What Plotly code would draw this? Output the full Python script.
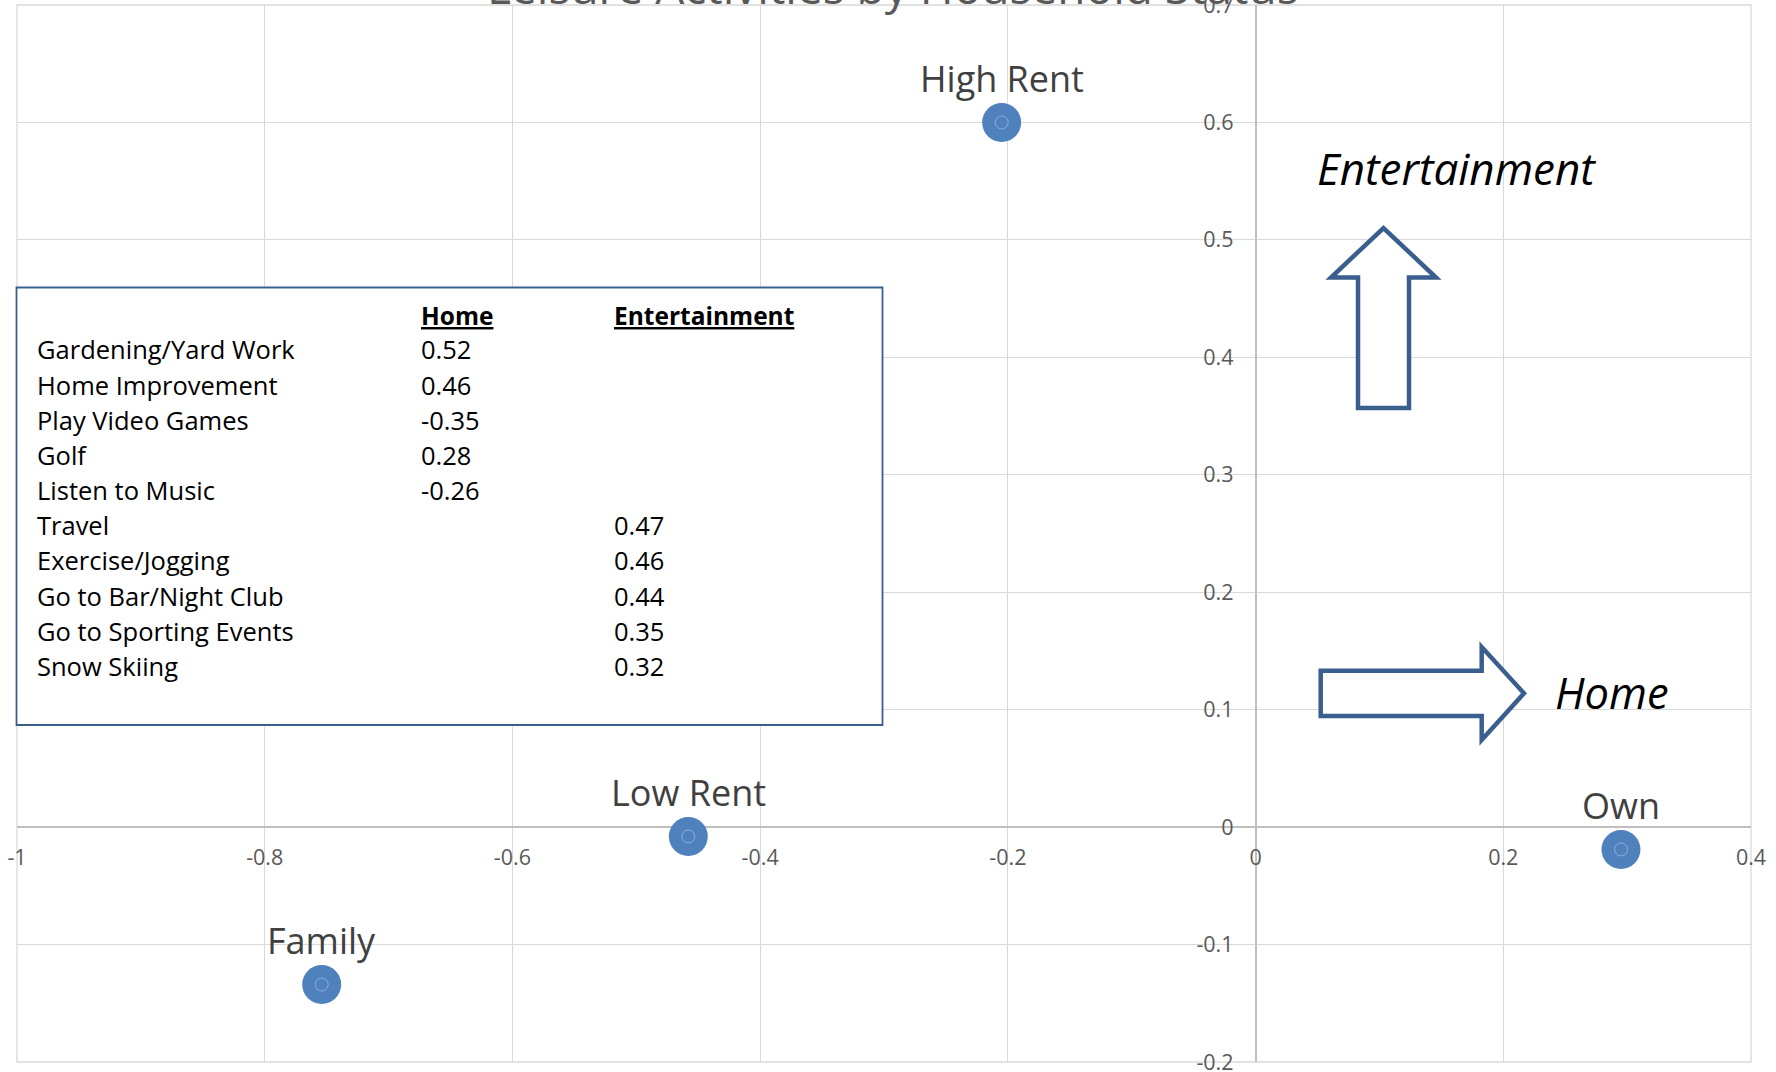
import plotly.graph_objects as go

# ---- data -------------------------------------------------------------
groups = ["High Rent", "Low Rent", "Own", "Family"]
home_score = [-0.205, -0.458, 0.295, -0.754]
ent_score = [0.600, -0.008, -0.019, -0.134]

activities = [
    "Gardening/Yard Work", "Home Improvement", "Play Video Games", "Golf",
    "Listen to Music", "Travel", "Exercise/Jogging", "Go to Bar/Night Club",
    "Go to Sporting Events", "Snow Skiing",
]
home_loading = [0.52, 0.46, -0.35, 0.28, -0.26, None, None, None, None, None]
ent_loading = [None, None, None, None, None, 0.47, 0.46, 0.44, 0.35, 0.32]

x_ticks = [-1, -0.8, -0.6, -0.4, -0.2, 0, 0.2, 0.4]
x_tick_text = ["-1", "-0.8", "-0.6", "-0.4", "-0.2", "0", "0.2", "0.4"]
y_ticks = [-0.2, -0.1, 0, 0.1, 0.2, 0.3, 0.4, 0.5, 0.6, 0.7]
y_tick_text = ["-0.2", "-0.1", "0", "0.1", "0.2", "0.3", "0.4", "0.5", "0.6", "0.7"]

X_RANGE = [-1, 0.4]
Y_RANGE = [-0.2, 0.7]

TITLE = "Leisure Activities by Household Status"

# ---- page geometry -----------------------------------------------------
W, H = 1776, 1072
ML, MR, MT, MB = 17, 25, 5, 10
PW, PH = W - ML - MR, H - MT - MB


def px(x):
    """pixel column -> paper x"""
    return (x - ML) / PW


def py(y):
    """pixel row -> paper y"""
    return (H - MB - y) / PH


FONT = "Open Sans"
MARK = "#4f81bd"
OUTLINE = "#3a5f8f"
GRID = "#d9d9d9"
AXIS = "#bfbfbf"

fig = go.Figure()

fig.add_trace(go.Scatter(
    x=home_score, y=ent_score, mode="markers",
    marker=dict(size=39, color=MARK, line=dict(width=0)),
    hoverinfo="skip",
))
fig.add_trace(go.Scatter(
    x=home_score, y=ent_score, mode="markers",
    marker=dict(size=13, symbol="circle-open", color="rgba(255,255,255,0.35)",
                line=dict(width=1, color="rgba(255,255,255,0.35)")),
    hoverinfo="skip",
))

annotations = []

# point labels
for name, hx, ey in zip(groups, home_score, ent_score):
    annotations.append(dict(
        x=hx, y=ey, xref="x", yref="y", text=name, showarrow=False,
        xanchor="center", yanchor="middle", yshift=44,
        font=dict(family=FONT, size=36, color="#404040"),
    ))

# chart title (sits mostly above the page edge)
annotations.append(dict(
    x=px(893), y=py(4 - 0.388 * 46), xref="paper", yref="paper",
    text=TITLE, showarrow=False, xanchor="center", yanchor="middle",
    font=dict(family=FONT, size=46, color="#595959"),
))

# loadings table
COL_NAME, COL_HOME, COL_ENT = 35, 419, 612
HEADER_Y, ROW0_Y, ROW_STEP = 315.5, 349.3, 35.2
TFONT = dict(family=FONT, size=25.5, color="#000000")
HFONT = dict(family=FONT, size=24.5, color="#000000")

for text, cx in (("Home", COL_HOME), ("Entertainment", COL_ENT)):
    annotations.append(dict(
        x=px(cx), y=py(HEADER_Y), xref="paper", yref="paper",
        text=f"<u><b>{text}</b></u>", showarrow=False,
        xanchor="left", yanchor="middle", font=HFONT,
    ))

for i, (act, hv, ev) in enumerate(zip(activities, home_loading, ent_loading)):
    yy = py(ROW0_Y + i * ROW_STEP)
    annotations.append(dict(x=px(COL_NAME), y=yy, xref="paper", yref="paper",
                            text=act, showarrow=False, xanchor="left",
                            yanchor="middle", font=TFONT))
    if hv is not None:
        annotations.append(dict(x=px(COL_HOME), y=yy, xref="paper", yref="paper",
                                text=f"{hv:.2f}", showarrow=False, xanchor="left",
                                yanchor="middle", font=TFONT))
    if ev is not None:
        annotations.append(dict(x=px(COL_ENT), y=yy, xref="paper", yref="paper",
                                text=f"{ev:.2f}", showarrow=False, xanchor="left",
                                yanchor="middle", font=TFONT))

# direction labels
annotations.append(dict(
    x=px(1456.5), y=py(168), xref="paper", yref="paper", text="<i>Entertainment</i>",
    showarrow=False, xanchor="center", yanchor="middle",
    font=dict(family=FONT, size=44, color="#000000"),
))
annotations.append(dict(
    x=px(1612), y=py(692.5), xref="paper", yref="paper", text="<i>Home</i>",
    showarrow=False, xanchor="center", yanchor="middle",
    font=dict(family=FONT, size=43.5, color="#000000"),
))


def path(points):
    return "M " + " L ".join(f"{px(a):.5f},{py(b):.5f}" for a, b in points) + " Z"


up_arrow = [(1358, 408), (1358, 277.5), (1331, 277.5), (1383.5, 228),
            (1436, 277.5), (1409, 277.5), (1409, 408)]
right_arrow = [(1320.7, 670.7), (1481.7, 670.7), (1481.7, 647), (1524, 693.3),
               (1481.7, 740), (1481.7, 716), (1320.7, 716)]

shapes = [
    # plot-area frame (outermost gridlines)
    dict(type="rect", xref="paper", yref="paper", x0=0, x1=1, y0=0, y1=1,
         line=dict(color=GRID, width=1.3), layer="below"),
    dict(type="rect", xref="paper", yref="paper",
         x0=px(16.5), x1=px(882.5), y0=py(725), y1=py(287.5),
         fillcolor="white", line=dict(color=OUTLINE, width=1.8), layer="above"),
    dict(type="path", xref="paper", yref="paper", path=path(up_arrow),
         fillcolor="white", line=dict(color=OUTLINE, width=4.5), layer="above"),
    dict(type="path", xref="paper", yref="paper", path=path(right_arrow),
         fillcolor="white", line=dict(color=OUTLINE, width=4.5), layer="above"),
]

tick_font = dict(family=FONT, size=21.5, color="#595959")

fig.update_layout(
    width=W, height=H,
    margin=dict(l=ML, r=MR, t=MT, b=MB, autoexpand=False),
    paper_bgcolor="white", plot_bgcolor="white",
    showlegend=False,
    annotations=annotations,
    shapes=shapes,
    xaxis=dict(
        range=X_RANGE, tickvals=x_ticks, ticktext=x_tick_text,
        anchor="free", position=(0 - Y_RANGE[0]) / (Y_RANGE[1] - Y_RANGE[0]),
        showgrid=True, gridcolor=GRID, gridwidth=1.3,
        zeroline=True, zerolinecolor=AXIS, zerolinewidth=1.6,
        showline=False, ticks="", tickfont=tick_font,
        ticklabelstandoff=15, ticklabeloverflow="allow",
        automargin=False, fixedrange=True,
    ),
    yaxis=dict(
        range=Y_RANGE, tickvals=y_ticks, ticktext=y_tick_text,
        anchor="free", position=(0 - X_RANGE[0]) / (X_RANGE[1] - X_RANGE[0]),
        showgrid=True, gridcolor=GRID, gridwidth=1.3,
        zeroline=True, zerolinecolor=AXIS, zerolinewidth=1.6,
        showline=False, ticks="", tickfont=tick_font,
        ticklabelstandoff=22, ticklabeloverflow="allow",
        automargin=False, fixedrange=True,
    ),
)

fig.write_html("out.html", config={"displayModeBar": False})
